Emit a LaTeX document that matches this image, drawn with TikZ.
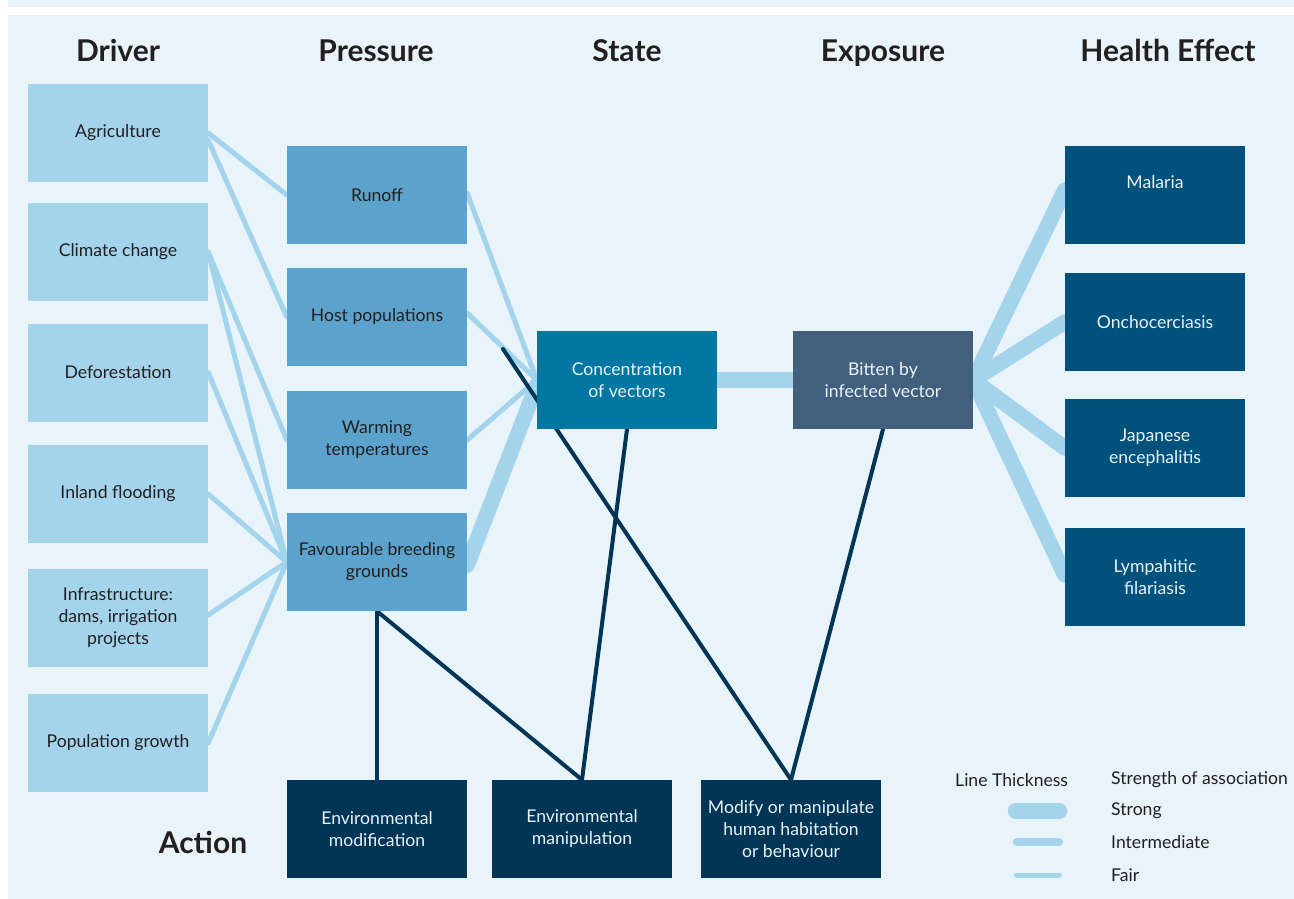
\documentclass[tikz,border=0pt]{standalone}
\usepackage{fontspec}
\setmainfont{Lato}
\definecolor{panel}{HTML}{E8F3FA}
\definecolor{drvc}{HTML}{A3D4EC}
\definecolor{prsc}{HTML}{5BA3CC}
\definecolor{stac}{HTML}{0077A3}
\definecolor{expc}{HTML}{42607E}
\definecolor{hlth}{HTML}{00527C}
\definecolor{actc}{HTML}{003556}
\definecolor{lline}{HTML}{A3D4EC}
\definecolor{dline}{HTML}{003556}
\definecolor{txtc}{HTML}{231F20}
\definecolor{wtxt}{HTML}{EAF3F9}
\pgfdeclarelayer{back}
\pgfdeclarelayer{bg}
\pgfsetlayers{back,bg,main}
\tikzset{
  box/.style={minimum width=180pt, minimum height=98pt, inner sep=0pt, align=center, font=\fontsize{17.6}{22}\selectfont},
  drvbox/.style={box, fill=drvc, text=txtc},
  prsbox/.style={box, fill=prsc, text=txtc},
  stabox/.style={box, fill=stac, text=wtxt},
  expbox/.style={box, fill=expc, text=wtxt},
  hbox/.style={box, fill=hlth, text=wtxt},
  actbox/.style={box, fill=actc, text=wtxt},
  head/.style={font=\fontsize{30}{33}\selectfont\bfseries, text=txtc, inner sep=0pt, anchor=base},
  legtxt/.style={font=\fontsize{17.6}{20}\selectfont, text=txtc, anchor=west, inner sep=0pt},
  fair/.style={draw=lline, line width=5pt, line cap=round},
  inter/.style={draw=lline, line width=8pt, line cap=round},
  strong/.style={draw=lline, line width=15.5pt, line cap=round},
  act/.style={draw=dline, line width=4pt, line cap=round, line join=round}
}
\begin{document}
\begin{tikzpicture}[x=1pt,y=-1pt]
\useasboundingbox (0,0) rectangle (1294,899);
\begin{pgfonlayer}{back}
\fill[white] (0,0) rectangle (1294,899);
\fill[panel] (8,0) rectangle (1294,7);
\fill[panel] (8,15) rectangle (1294,899);
\end{pgfonlayer}

% headings
\node[head] (hdrv) at (118,62) {Driver};
\node[head] (hprs) at (376,62) {Pressure};
\node[head] (hsta) at (627,62) {State};
\node[head] (hexp) at (883,62) {Exposure};
\node[head] (hhlt) at (1168,62) {Health Effect};
\node[head] (hact) at (203,853) {Action};

% drivers
\node[drvbox] (agri) at (118,133) {Agriculture};
\node[drvbox] (clim) at (118,252) {Climate change};
\node[drvbox] (defo) at (118,372.5) {Deforestation};
\node[drvbox] (inla) at (118,494) {Inland flooding};
\node[drvbox] (infr) at (118,618) {Infrastructure:\\dams, irrigation\\projects};
\node[drvbox] (popu) at (118,743) {Population growth};

% pressures
\node[prsbox] (runo) at (377,195) {Runoff};
\node[prsbox] (host) at (377,317) {Host populations};
\node[prsbox] (warm) at (377,440) {Warming\\temperatures};
\node[prsbox] (favo) at (377,562) {Favourable breeding\\grounds};

% state / exposure
\node[stabox] (conc) at (627,380) {Concentration\\of vectors};
\node[expbox] (bitt) at (883,380) {Bitten by\\infected vector};

% health effects
\node[hbox] (mala) at (1155,195) {\raisebox{25pt}{Malaria}};
\node[hbox] (onch) at (1155,322) {Onchocerciasis};
\node[hbox] (japa) at (1155,448) {Japanese\\encephalitis};
\node[hbox] (lymp) at (1155,577) {Lympahitic\\filariasis};

% actions
\node[actbox] (emod) at (377,829) {Environmental\\modification};
\node[actbox] (eman) at (582,829) {Environmental\\manipulation};
\node[actbox] (modi) at (791,829) {Modify or manipulate\\human habitation\\or behaviour};

\coordinate (hs) at (503,349);

\begin{pgfonlayer}{bg}
% driver -> pressure
\draw[fair] (agri.east) -- (runo.west);
\draw[fair] ([yshift=-7pt]agri.east) -- (host.west);
\draw[fair] (clim.east) -- (warm.west);
\draw[fair] (clim.east) -- (favo.west);
\draw[fair] (defo.east) -- (favo.west);
\draw[fair] (inla.east) -- (favo.west);
\draw[fair] ([yshift=3pt]infr.east) -- (favo.west);
\draw[fair] (popu.east) -- (favo.west);
% pressure -> state
\draw[fair] ([yshift=2pt]runo.east) -- (conc.west);
\draw[fair] ([yshift=4pt]host.east) -- (conc.west);
\draw[fair] (warm.east) -- (conc.west);
\draw[strong] ([yshift=-3pt]favo.east) -- ([yshift=-5pt]conc.west);
% state -> exposure
\draw[strong] (conc.east) -- (bitt.west);
% exposure -> health
\draw[strong] (bitt.east) -- ([yshift=5pt]mala.west);
\draw[strong] (bitt.east) -- (onch.west);
\draw[strong] (bitt.east) -- (japa.west);
\draw[strong] (bitt.east) -- ([yshift=2pt]lymp.west);
% actions
\draw[act] (favo.south) -- (emod.north);
\draw[act] (favo.south) -- (eman.north);
\draw[act] (conc.south) -- (eman.north);
\draw[act] (hs) -- (modi.north);
\draw[act] (bitt.south) -- (modi.north);
\end{pgfonlayer}

% legend
\node[legtxt] (lt1) at (955,780) {Line Thickness};
\node[legtxt] (lt2) at (1111,780) {Strength of association};
\node[legtxt] (ls) at (1111,811) {Strong};
\node[legtxt] (li) at (1111,842) {Intermediate};
\node[legtxt] (lf) at (1111,875) {Fair};
\coordinate (s1) at (1015.5,811); \coordinate (s2) at (1059.5,811);
\coordinate (i1) at (1017,842); \coordinate (i2) at (1059,842);
\coordinate (f1) at (1016.5,875); \coordinate (f2) at (1059.5,875);
\draw[strong] (s1) -- (s2);
\draw[inter] (i1) -- (i2);
\draw[fair] (f1) -- (f2);
\end{tikzpicture}
\end{document}
